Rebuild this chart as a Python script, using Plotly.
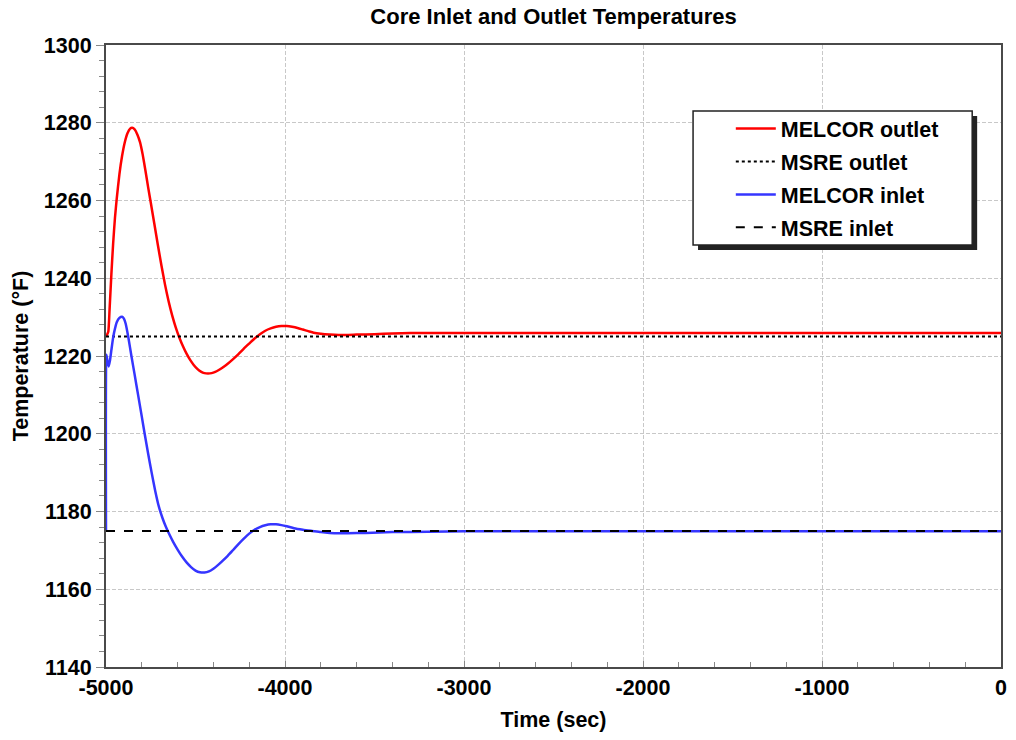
import plotly.graph_objects as go

# MELCOR outlet (red)
t_out = [-5000, -4993, -4987, -4980, -4970, -4960, -4950, -4940, -4925, -4910, -4895,
         -4880, -4865, -4854, -4840, -4825, -4810, -4795, -4780, -4765, -4750, -4730,
         -4710, -4690, -4670, -4650, -4630, -4610, -4590, -4570, -4550, -4530, -4510,
         -4490, -4470, -4450, -4430, -4410, -4390, -4370, -4350, -4320, -4290, -4260,
         -4230, -4200, -4170, -4140, -4110, -4080, -4050, -4020, -3990, -3960, -3930,
         -3900, -3870, -3840, -3800, -3750, -3700, -3600, -3500, -3400, -3300, -3000,
         -2000, 0]
T_out = [1225.0, 1225.6, 1226.3, 1232.0, 1241.0, 1249.0, 1255.5, 1260.5, 1266.8, 1271.5, 1275.0,
         1277.3, 1278.5, 1278.7, 1278.3, 1277.0, 1275.0, 1271.8, 1267.8, 1263.5, 1259.5, 1254.0,
         1248.5, 1243.2, 1238.3, 1234.0, 1230.4, 1227.3, 1224.7, 1222.5, 1220.6, 1219.0, 1217.7,
         1216.7, 1216.0, 1215.6, 1215.5, 1215.6, 1215.9, 1216.4, 1217.0, 1218.0, 1219.2, 1220.5,
         1221.9, 1223.2, 1224.5, 1225.6, 1226.5, 1227.1, 1227.5, 1227.7, 1227.7, 1227.5, 1227.2,
         1226.8, 1226.4, 1226.0, 1225.7, 1225.5, 1225.4, 1225.5, 1225.6, 1225.8, 1225.9, 1225.9,
         1225.9, 1225.9]

# MELCOR inlet (blue)
t_in = [-5000, -4998, -4993, -4985, -4978, -4970, -4960, -4950, -4940, -4925, -4910,
        -4900, -4890, -4876, -4858, -4840, -4820, -4800, -4784, -4765, -4745, -4725,
        -4705, -4685, -4665, -4645, -4625, -4600, -4575, -4550, -4525, -4500, -4475,
        -4450, -4425, -4400, -4375, -4349, -4320, -4290, -4260, -4230, -4200, -4170,
        -4140, -4110, -4080, -4050, -4020, -3990, -3950, -3900, -3850, -3800, -3750,
        -3700, -3650, -3550, -3400, -3200, -3000, 0]
T_in = [1175.0, 1220.3, 1219.0, 1217.3, 1218.8, 1221.5, 1224.8, 1227.0, 1228.7, 1229.8, 1230.1,
        1229.6, 1228.3, 1225.0, 1220.0, 1215.2, 1209.8, 1204.4, 1200.0, 1195.0, 1190.0, 1185.3,
        1181.3, 1178.4, 1176.0, 1174.0, 1172.2, 1170.2, 1168.4, 1166.9, 1165.7, 1164.8, 1164.35,
        1164.3, 1164.6, 1165.3, 1166.2, 1167.3, 1168.6, 1170.1, 1171.6, 1173.0, 1174.3, 1175.3,
        1176.0, 1176.45, 1176.7, 1176.7, 1176.5, 1176.2, 1175.7, 1175.3, 1175.0, 1174.7, 1174.5,
        1174.4, 1174.4, 1174.5, 1174.7, 1174.8, 1174.9, 1174.9]

# MSRE reference values
t_ref = [-5000, 0]
T_msre_out = [1225.0, 1225.0]
T_msre_in = [1175.0, 1175.0]

x_tickvals = [-5000, -4000, -3000, -2000, -1000, 0]
x_ticktext = ["-5000", "-4000", "-3000", "-2000", "-1000", "0"]

FONT = "Liberation Sans, Arial, sans-serif"

fig = go.Figure()
fig.add_trace(go.Scatter(x=t_out, y=T_out, mode="lines", name="<b>MELCOR outlet</b>",
                         line=dict(color="#ff0000", width=2.5, shape="spline", smoothing=0.5),
                         legendgroup="a"))
fig.add_trace(go.Scatter(x=t_ref, y=T_msre_out, mode="lines", name="<b>MSRE outlet</b>",
                         line=dict(color="#000000", width=2, dash="dot"),
                         legendgroup="b"))
fig.add_trace(go.Scatter(x=t_in, y=T_in, mode="lines", name="<b>MELCOR inlet</b>",
                         line=dict(color="#3535ff", width=2.5, shape="spline", smoothing=0.5),
                         legendgroup="c"))
fig.add_trace(go.Scatter(x=t_ref, y=T_msre_in, mode="lines", name="<b>MSRE inlet</b>",
                         line=dict(color="#000000", width=2, dash="dash"),
                         legendgroup="d"))

# legend box with shadow (paper coords)
L, R, T, B = 106, 1007, 45, 667
def px(x):
    return (x - L) / (R - L)
def py(y):
    return (B - y) / (B - T)

fig.add_shape(type="rect", xref="paper", yref="paper",
              x0=px(702), x1=px(983), y0=py(250), y1=py(116),
              fillcolor="#222222", line=dict(width=0), layer="above")
fig.add_shape(type="rect", xref="paper", yref="paper",
              x0=px(697), x1=px(978), y0=py(245), y1=py(111),
              fillcolor="white", line=dict(color="#222222", width=1.5), layer="above")

fig.update_layout(
    width=1016, height=740,
    margin=dict(l=L, r=1016 - R, t=T, b=740 - B),
    paper_bgcolor="white", plot_bgcolor="white",
    font=dict(family=FONT, color="black"),
    title=dict(text="<b>Core Inlet and Outlet Temperatures</b>", x=0.5, xanchor="center",
               xref="paper", y=1 - 16 / 740, yanchor="middle",
               font=dict(size=22, family=FONT, color="black")),
    legend=dict(x=px(735), y=py(108), xanchor="left", yanchor="top",
                bgcolor="rgba(0,0,0,0)", borderwidth=0,
                font=dict(size=21.5, family=FONT, color="black"),
                traceorder="grouped", tracegroupgap=2, itemwidth=40),
    showlegend=True,
)

fig.update_xaxes(
    range=[-5000, 0], tickmode="array", tickvals=x_tickvals,
    ticktext=["<b>" + s + "</b>" for s in x_ticktext],
    tickfont=dict(size=21.5, family=FONT, color="black"),
    title=dict(text="<b>Time (sec)</b>", font=dict(size=21.5, family=FONT, color="black"), standoff=13),
    showline=True, linecolor="#4a4a4a", linewidth=2, mirror=True,
    ticks="inside", ticklen=6, tickcolor="#888888",
    minor=dict(dtick=200, tick0=-5000, ticks="inside", ticklen=5, tickcolor="#888888", showgrid=False),
    showgrid=True, gridcolor="#c8c8c8", griddash="4px,2px", gridwidth=1,
    zeroline=False,
)
fig.update_yaxes(
    range=[1140, 1300], dtick=20, tick0=1140,
    tickfont=dict(size=21.5, family=FONT, color="black"),
    tickprefix="<b>", ticksuffix="</b>",
    title=dict(text="<b>Temperature (°F)</b>", font=dict(size=21.5, family=FONT, color="black"), standoff=9),
    showline=True, linecolor="#4a4a4a", linewidth=2, mirror=True,
    ticks="outside", ticklen=8, tickcolor="#888888",
    minor=dict(dtick=4, ticks="outside", ticklen=5, tickcolor="#888888", showgrid=False),
    showgrid=True, gridcolor="#c8c8c8", griddash="4px,2px", gridwidth=1,
    zeroline=False,
)

fig.write_html("out.html")
